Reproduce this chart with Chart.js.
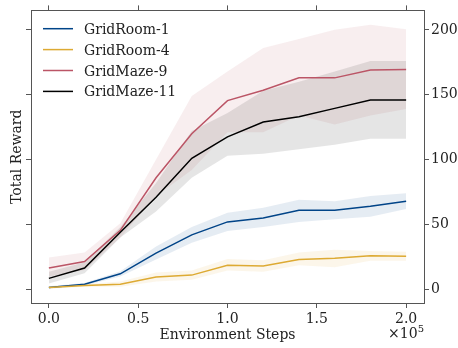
<!DOCTYPE html>
<html><head><meta charset="utf-8">
<script src="https://cdn.jsdelivr.net/npm/chart.js@4/dist/chart.umd.min.js"></script>
<style>html,body{margin:0;padding:0;background:#fff;}#wrap{position:relative;width:458px;height:348px;}</style>
</head><body><div id="wrap"><canvas id="c" width="458" height="348"></canvas></div>
<script>
const steps = [0, 0.2, 0.4, 0.6, 0.8, 1.0, 1.2, 1.4, 1.6, 1.8, 2.0]; // x 1e5
const seriesNames = ['GridRoom-1', 'GridRoom-4', 'GridMaze-9', 'GridMaze-11'];
const seriesColors = ['#004488', '#DDAA33', '#BB5566', '#000000'];
const bandColors = ['rgba(0,68,136,0.1)', 'rgba(221,170,51,0.1)', 'rgba(187,85,102,0.1)', 'rgba(0,0,0,0.1)'];

const room1Mean  = [1.5, 4, 12, 28, 42, 52, 55, 61, 61, 64, 68];
const room1Upper = [2.5, 5, 14, 33, 48, 59, 63, 69, 68, 72, 74];
const room1Lower = [0.5, 3, 10, 23, 36, 45, 48, 52, 54, 56, 62];

const room4Mean  = [1.5, 3, 4, 9.5, 11, 18.5, 18, 23, 24, 26, 25.5];
const room4Upper = [2.5, 4, 6, 13, 14.5, 23.5, 22.5, 28.5, 30.5, 29.5, 29];
const room4Lower = [0.5, 2, 2, 6, 7.5, 14.5, 13.5, 18.5, 17, 22, 22];

const maze9Mean  = [16.5, 21.5, 45.5, 86, 120, 145.5, 153.5, 163, 163, 169, 169.5];
const maze9Upper = [24.5, 28.5, 51, 100, 149, 168, 186, 193, 200, 204, 200.5];
const maze9Lower = [10, 15, 40, 72, 92, 121, 121, 134, 127, 134, 139];

const maze11Mean  = [8.5, 16.5, 44, 71, 101, 117.5, 129, 133, 139.5, 146, 146];
const maze11Upper = [13.5, 21, 48, 82, 122, 136, 153, 160, 168, 176, 176];
const maze11Lower = [4.5, 12.5, 40, 60, 86, 103, 104.5, 108, 111.5, 116, 116];

const xTicks = [0, 0.5, 1.0, 1.5, 2.0];
const yTicks = [0, 50, 100, 150, 200];
const xLabel = 'Environment Steps';
const yLabel = 'Total Reward';

const means = [room1Mean, room4Mean, maze9Mean, maze11Mean];
const uppers = [room1Upper, room4Upper, maze9Upper, maze11Upper];
const lowers = [room1Lower, room4Lower, maze9Lower, maze11Lower];

const pts = arr => arr.map((v, i) => ({x: steps[i], y: v}));
const datasets = [];
for (let s = 3; s >= 0; s--) {
  datasets.push({label: seriesNames[s], data: pts(means[s]), borderColor: seriesColors[s],
    borderWidth: 1.5, pointRadius: 0, fill: false, tension: 0});
}
for (let s = 3; s >= 0; s--) {
  datasets.push({label: seriesNames[s] + ' upper', data: pts(uppers[s]), borderWidth: 0,
    pointRadius: 0, backgroundColor: bandColors[s], fill: '+1', tension: 0});
  datasets.push({label: seriesNames[s] + ' lower', data: pts(lowers[s]), borderWidth: 0,
    pointRadius: 0, fill: false, tension: 0});
}

const FONT = '"DejaVu Serif", serif';
const SPINE = '#555';
const TXT = '#222';

function tickMarks(pos, showLabels, extra) {
  return Object.assign({
    position: pos,
    grid: {display: true, drawOnChartArea: false, drawTicks: true, tickLength: 5, color: SPINE, lineWidth: 1},
    border: {display: true, color: SPINE, width: 1},
    ticks: {display: showLabels, color: TXT, font: {family: FONT, size: 14}}
  }, extra);
}

const extras = {
  id: 'extras',
  afterDraw(chart) {
    const {ctx, chartArea: a} = chart;
    ctx.save();
    ctx.fillStyle = TXT;
    ctx.textBaseline = 'alphabetic';
    ctx.textAlign = 'right';
    ctx.font = '10px ' + FONT;
    const supW = ctx.measureText('5').width;
    ctx.fillText('5', a.right, 332);
    ctx.font = '14px ' + FONT;
    ctx.fillText('\u00d710', a.right - supW, 338);
    ctx.textAlign = 'left';
    const y0 = 28.7, dy = 20.9;
    for (let s = 0; s < 4; s++) {
      const y = y0 + dy * s;
      ctx.strokeStyle = seriesColors[s];
      ctx.lineWidth = 1.5;
      ctx.beginPath(); ctx.moveTo(43, y); ctx.lineTo(73, y); ctx.stroke();
      ctx.fillStyle = TXT;
      ctx.fillText(seriesNames[s], 84, y + 5);
    }
    ctx.restore();
  }
};

new Chart(document.getElementById('c'), {
  type: 'line',
  data: {datasets},
  options: {
    responsive: false, animation: false, devicePixelRatio: 1,
    layout: {padding: 0},
    plugins: {legend: {display: false}, tooltip: {enabled: false},
      filler: {drawTime: 'beforeDatasetsDraw'}},
    scales: {
      x: tickMarks('bottom', true, {type: 'linear', min: -0.1, max: 2.1,
        afterBuildTicks: s => { s.ticks = xTicks.map(v => ({value: v})); },
        afterFit: s => { s.height = 45; },
        ticks: {display: true, color: TXT, font: {family: FONT, size: 14}, padding: 3,
          callback: v => Number(v).toFixed(1)},
        title: {display: true, text: xLabel, color: TXT, font: {family: FONT, size: 14}, padding: {top: 0, bottom: 4.5}}}),
      x2: tickMarks('top', false, {type: 'linear', min: -0.1, max: 2.1,
        afterBuildTicks: s => { s.ticks = xTicks.map(v => ({value: v})); },
        afterFit: s => { s.height = 10; }}),
      y: tickMarks('left', false, {type: 'linear', min: -10.5, max: 215,
        afterBuildTicks: s => { s.ticks = yTicks.map(v => ({value: v})); },
        afterFit: s => { s.width = 31; },
        title: {display: true, text: yLabel, color: TXT, font: {family: FONT, size: 14}, padding: {top: 8.5, bottom: 0}}}),
      y2: tickMarks('right', true, {type: 'linear', min: -10.5, max: 215,
        afterBuildTicks: s => { s.ticks = yTicks.map(v => ({value: v})); },
        afterFit: s => { s.width = 34; },
        ticks: {display: true, color: TXT, font: {family: FONT, size: 14}, padding: 2}})
    }
  },
  plugins: [extras]
});
</script></body></html>
